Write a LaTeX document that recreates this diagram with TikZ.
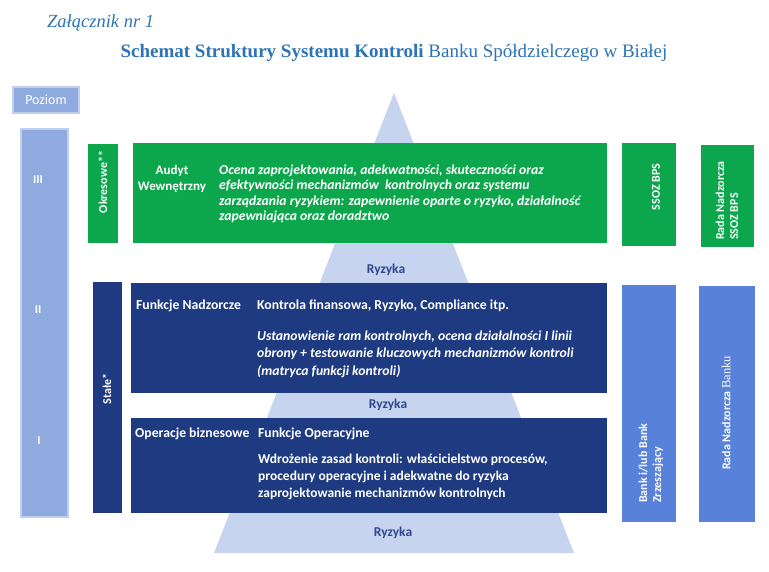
\documentclass[tikz,border=0pt]{standalone}
\usepackage{fontspec}
\setmainfont{Liberation Serif}
\setsansfont{Carlito}
\definecolor{titleblue}{RGB}{46,116,181}
\definecolor{grn}{RGB}{12,166,76}
\definecolor{navy}{RGB}{30,58,128}
\definecolor{midblue}{RGB}{88,129,217}
\definecolor{lvlfill}{RGB}{143,170,222}
\definecolor{lvlline}{RGB}{192,207,238}
\definecolor{pyr}{RGB}{198,212,240}
\definecolor{ryz}{RGB}{47,72,140}

\begin{document}
\begin{tikzpicture}[x=1pt,y=-1pt]
\tikzstyle{every node} = [inner sep=0pt, text=white, font=\sffamily\bfseries\fontsize{12}{14}\selectfont]
\tikzstyle{greenbox} = [fill=grn]
\tikzstyle{navybox} = [fill=navy]
\tikzstyle{bluebox} = [fill=midblue]
\tikzstyle{lvlbox} = [fill=lvlfill, draw=lvlline, line width=2pt]
\tikzstyle{body} = [font=\sffamily\bfseries\fontsize{13.7}{17.5}\selectfont, align=left, anchor=west]
\tikzstyle{bodyit} = [font=\sffamily\bfseries\itshape\fontsize{13.7}{17.5}\selectfont, align=left, anchor=west]
\tikzstyle{ryzyka} = [text=ryz, font=\sffamily\bfseries\fontsize{13.5}{15}\selectfont]
\useasboundingbox [fill=white] (0,0) rectangle (769,572);

\fill [pyr] (394,93) -- (574,553) -- (214,553) -- cycle;

\node [text=titleblue, anchor=west, font=\rmfamily\itshape\fontsize{18.5}{20}\selectfont] (zal) at (47,23) {Załącznik nr 1};
\node [text=titleblue, font=\rmfamily\fontsize{19}{22}\selectfont] (tytul) at (394,53) {\textbf{Schemat Struktury Systemu Kontroli} Banku Spółdzielczego w Białej};

\node [lvlbox, minimum width=66pt, minimum height=26pt, font=\sffamily\fontsize{14}{16}\selectfont] (poziom) at (46,100) {Poziom};
\node [lvlbox, minimum width=47pt, minimum height=388pt] (pasek) at (44.5,323) {};
\node (l3) at (38,180) {III};
\node (l2) at (38,310) {II};
\node (l1) at (39,441) {I};

\node [greenbox, minimum width=30pt, minimum height=99pt] (okrbox) at (103,193.5) {};
\node [rotate=90] (okr) at (103,182) {Okresowe**};
\node [greenbox, minimum width=474pt, minimum height=100pt] (audbox) at (370,193) {};
\node [font=\sffamily\bfseries\fontsize{13}{16}\selectfont, align=center] (audyt) at (172,179) {Audyt\\Wewnętrzny};
\node [bodyit, font=\sffamily\bfseries\itshape\fontsize{13.7}{15.5}\selectfont] (ocena) at (219,194) {Ocena zaprojektowania, adekwatności, skuteczności oraz\\efektywności mechanizmów\ \ kontrolnych oraz systemu\\zarządzania ryzykiem: zapewnienie oparte o ryzyko, działalność\\zapewniająca oraz doradztwo};

\node [greenbox, minimum width=54pt, minimum height=103pt] (ssozbox) at (649,194.5) {};
\node [rotate=90] (ssoz) at (656,187) {SSOZ BPS};
\node [greenbox, minimum width=53pt, minimum height=102pt] (radassozbox) at (727.5,196) {};
\node [rotate=90, anchor=west, align=left] (radassoz) at (727,240) {Rada Nadzorcza\\SSOZ BPS};

\node [navybox, minimum width=29pt, minimum height=231pt] (stalebox) at (107.5,397.5) {};
\node [rotate=90] (stale) at (107,389) {Stałe*};

\node [navybox, minimum width=476pt, minimum height=110pt] (nadzbox) at (369,338) {};
\node [body] (nadz) at (136,306) {Funkcje Nadzorcze};
\node [body] (kontrola) at (257,306) {Kontrola finansowa, Ryzyko, Compliance itp.};
\node [bodyit] (ustan) at (257,354) {Ustanowienie ram kontrolnych, ocena działalności I linii\\obrony + testowanie kluczowych mechanizmów kontroli\\(matryca funkcji kontroli)};

\node [navybox, minimum width=476pt, minimum height=95pt] (operbox) at (369,465.5) {};
\node [body] (oper) at (135,434) {Operacje biznesowe};
\node [body] (funop) at (258,434) {Funkcje Operacyjne};
\node [body, font=\sffamily\bfseries\fontsize{13.5}{17}\selectfont] (wdroz) at (258,477) {Wdrożenie zasad kontroli: właścicielstwo procesów,\\procedury operacyjne i adekwatne do ryzyka\\zaprojektowanie mechanizmów kontrolnych};

\node [ryzyka] (ryz3) at (386,270) {Ryzyka};
\node [ryzyka] (ryz2) at (388,405) {Ryzyka};
\node [ryzyka] (ryz1) at (393,533) {Ryzyka};

\node [bluebox, minimum width=54pt, minimum height=237pt] (bankbox) at (649,403.5) {};
\node [rotate=90, anchor=west, align=left] (bank) at (651,503) {Bank i/lub Bank\\Zrzeszający};
\node [bluebox, minimum width=56pt, minimum height=236pt] (radabox) at (727,404) {};
\node [rotate=90, anchor=west] (rada) at (726,470) {Rada Nadzorcza {\rmfamily\mdseries\fontsize{12.5}{15}\selectfont Banku}};
\end{tikzpicture}
\end{document}
